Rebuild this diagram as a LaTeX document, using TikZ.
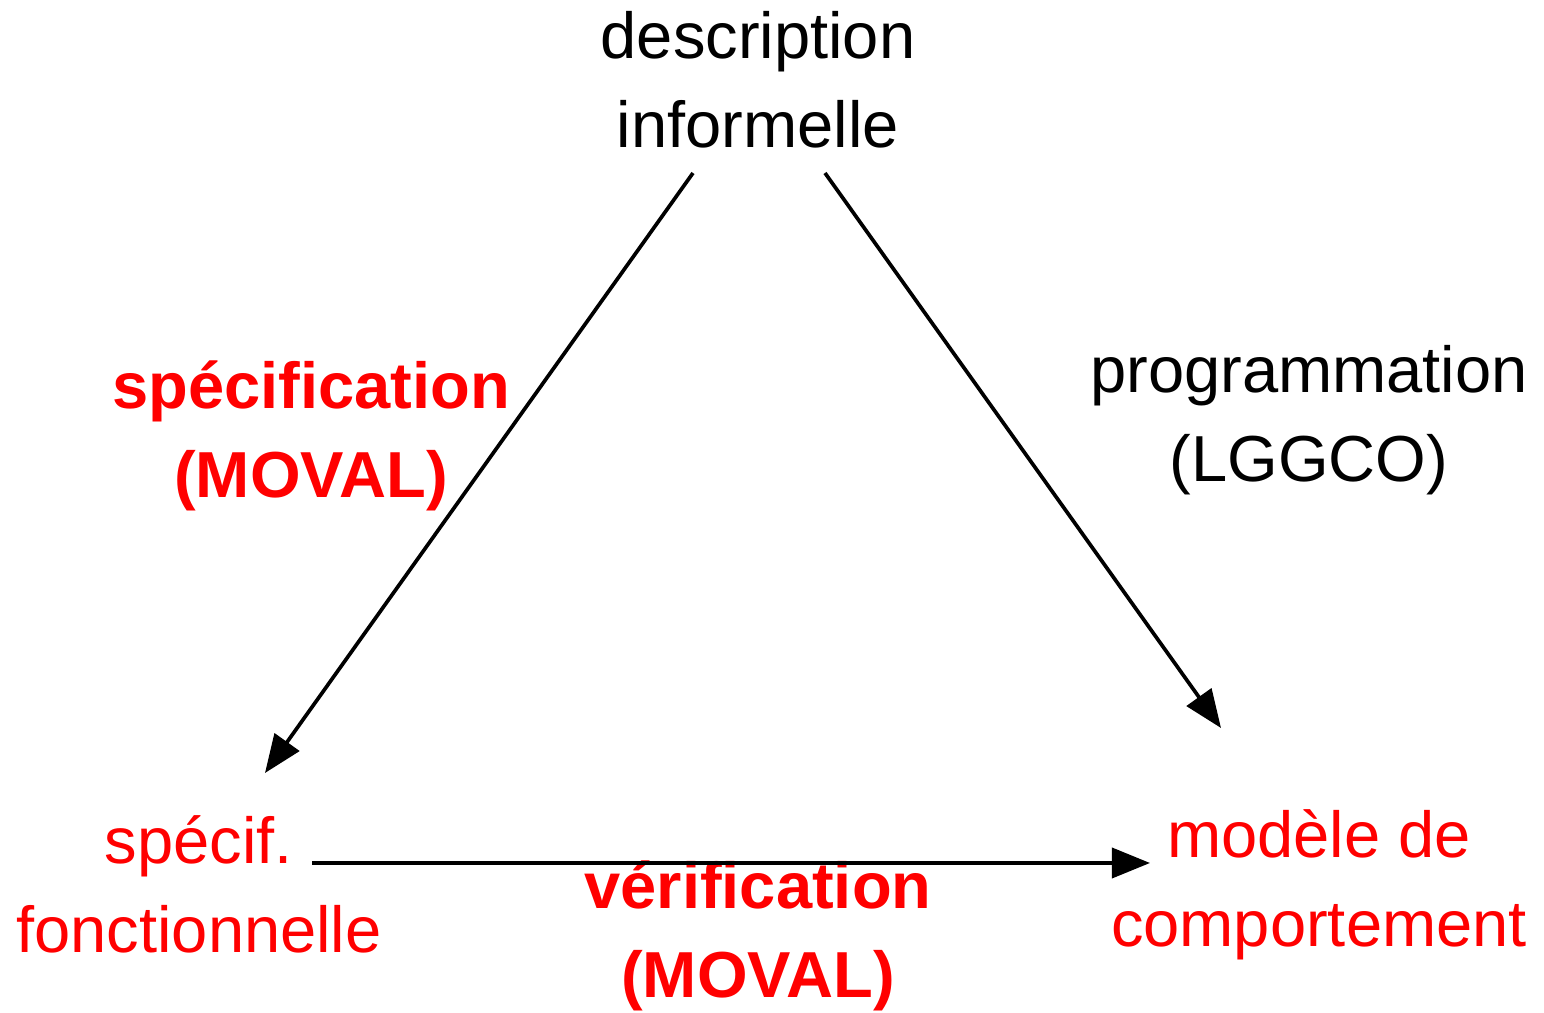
\documentclass[tikz,border=0pt]{standalone}
\usepackage{fontspec}
\setmainfont{Liberation Sans}
\usetikzlibrary{arrows.meta}

\begin{document}
\begin{tikzpicture}[
    x=0.01cm, y=-0.01cm,
    font=\fontsize{18.5}{25.3}\selectfont,
    lbl/.style={align=center, inner sep=0pt},
    redlbl/.style={lbl, text=red},
    arr/.style={-{Triangle[length=3.8mm, width=3mm]}, line width=1.05pt}
  ]
    \useasboundingbox (0,0) rectangle (1544,1013);
    % corners of the triangle
    \node[lbl] (desc) at (758,80) {description\\informelle};
    \node[redlbl] (spec) at (199,884) {spécif.\\fonctionnelle};
    \node[redlbl] (model) at (1319,885) {modèle de\\comportement};
    % labels of the three steps
    \node[redlbl, font=\fontsize{18.5}{25.3}\selectfont\bfseries] (specif) at (311,436) {spécification\\(MOVAL)};
    \node[lbl] (prog) at (1309,420) {programmation\\(LGGCO)};
    \node[redlbl, font=\fontsize{18.5}{25.3}\selectfont\bfseries] (verif) at (758,936) {vérification\\(MOVAL)};
    % arrow ends
    \coordinate (descL) at (693,173);
    \coordinate (descR) at (825,173);
    \coordinate (specN) at (265,773);
    \coordinate (specE) at (312,863);
    \coordinate (modelN) at (1221,728);
    \coordinate (modelW) at (1150,863);
    \draw[arr] (descL) -- (specN);
    \draw[arr] (descR) -- (modelN);
    \draw[arr] (specE) -- (modelW);
  \end{tikzpicture}
\end{document}
